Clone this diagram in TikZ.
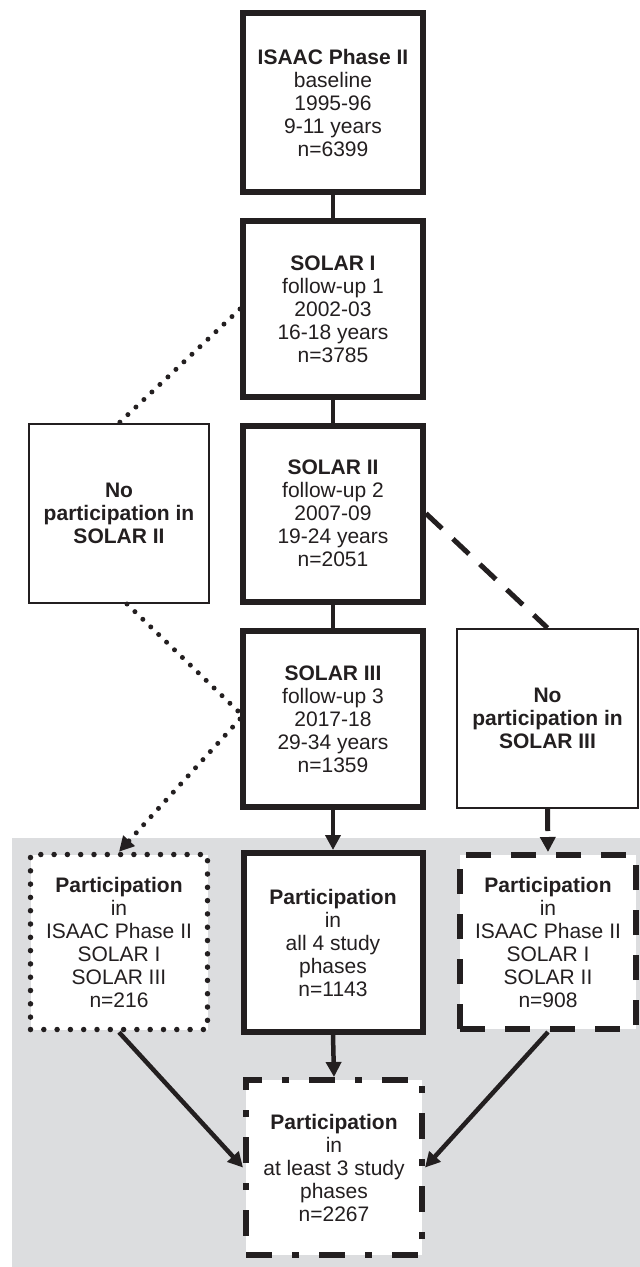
\documentclass[tikz,border=0pt]{standalone}
\usepackage{fontspec}
\setmainfont{Liberation Sans}
\usetikzlibrary{positioning, arrows.meta}
\definecolor{InkBlack}{RGB}{35, 31, 32}
\definecolor{PanelGray}{RGB}{220, 221, 223}

\begin{document}
\begin{tikzpicture}[x=1pt, y=-1pt, color=InkBlack,
  font=\fontsize{21}{23}\selectfont,
  >={Triangle[width=15pt, length=15pt]},
  phase/.style={draw, line width=6pt, fill=white, align=center, inner sep=2pt,
    minimum width=180pt, minimum height=176pt},
  nobox/.style={draw, line width=2pt, fill=white, align=center, inner sep=2pt,
    minimum width=180pt, minimum height=179pt},
  partdot/.style={draw, line width=5.5pt, fill=white, align=center, inner sep=2pt,
    dash pattern=on 0pt off 13.3pt, line cap=round,
    minimum width=177pt, minimum height=175pt},
  partdash/.style={draw, line width=6pt, fill=white, align=center, inner sep=2pt,
    dash pattern=on 25pt off 20pt,
    minimum width=176pt, minimum height=174pt},
  partmix/.style={draw, line width=6pt, fill=white, align=center, inner sep=2pt,
    dash pattern=on 26pt off 20pt on 7pt off 20pt,
    minimum width=176pt, minimum height=175pt},
  joint/.style={line width=4.5pt},
  dotline/.style={line width=5pt, dash pattern=on 0pt off 11pt, line cap=round},
  dashline/.style={line width=5pt, dash pattern=on 22pt off 15pt},
  arrowline/.style={line width=4.5pt, ->}]

\useasboundingbox (0,0) rectangle (640,1267);
\fill[PanelGray] (12,838) rectangle (640,1267);

% study phases
\node[phase, minimum height=179pt] (isaac) at (333,102.5)
  {\textbf{ISAAC Phase II}\\baseline\\1995-96\\9-11 years\\n=6399};
\node[phase] (solarI) at (333,309)
  {\textbf{SOLAR I}\\follow-up 1\\2002-03\\16-18 years\\n=3785};
\node[phase] (solarII) at (333,513.5)
  {\textbf{SOLAR II}\\follow-up 2\\2007-09\\19-24 years\\n=2051};
\node[phase] (solarIII) at (333,719)
  {\textbf{SOLAR III}\\follow-up 3\\2017-18\\29-34 years\\n=1359};

% drop-outs
\node[nobox] (noSolarII) at (119,513.5)
  {\textbf{No}\\\textbf{participation in}\\\textbf{SOLAR II}};
\node[nobox, minimum width=181pt] (noSolarIII) at (547.5,718.5)
  {\textbf{No}\\\textbf{participation in}\\\textbf{SOLAR III}};

% participation groups
\node[partdot] (partSolarIII) at (119,942)
  {\textbf{Participation}\\in\\ISAAC Phase II\\SOLAR I\\SOLAR III\\n=216};
\node[phase, minimum width=179pt, minimum height=179pt] (partAll) at (333,942.5)
  {\textbf{Participation}\\in\\all 4 study\\phases\\n=1143};
\node[partdash] (partSolarII) at (548,942)
  {\textbf{Participation}\\in\\ISAAC Phase II\\SOLAR I\\SOLAR II\\n=908};
\node[partmix] (partLeast) at (334,1167.5)
  {\textbf{Participation}\\in\\at least 3 study\\phases\\n=2267};

% connectors
\draw[joint] (isaac) -- (solarI);
\draw[joint] (solarI) -- (solarII);
\draw[joint] (solarII) -- (solarIII);
\draw[dotline] (solarI.west) -- (noSolarII.north);
\draw[dotline] ([xshift=8pt]noSolarII.south) -- ([yshift=6pt]solarIII.west);
\draw[dotline, ->] (solarIII.west) -- (partSolarIII.north);
\draw[dashline] (solarII.east) -- (noSolarIII.north);
\draw[dashline, ->] (noSolarIII.south) -- (partSolarII.north);
\draw[arrowline] (solarIII) -- (partAll);
\draw[arrowline] (partAll.south) -- (partLeast.north);
\draw[arrowline] (partSolarIII.south) -- (partLeast.west);
\draw[arrowline] (partSolarII.south) -- (partLeast.east);
\end{tikzpicture}
\end{document}
